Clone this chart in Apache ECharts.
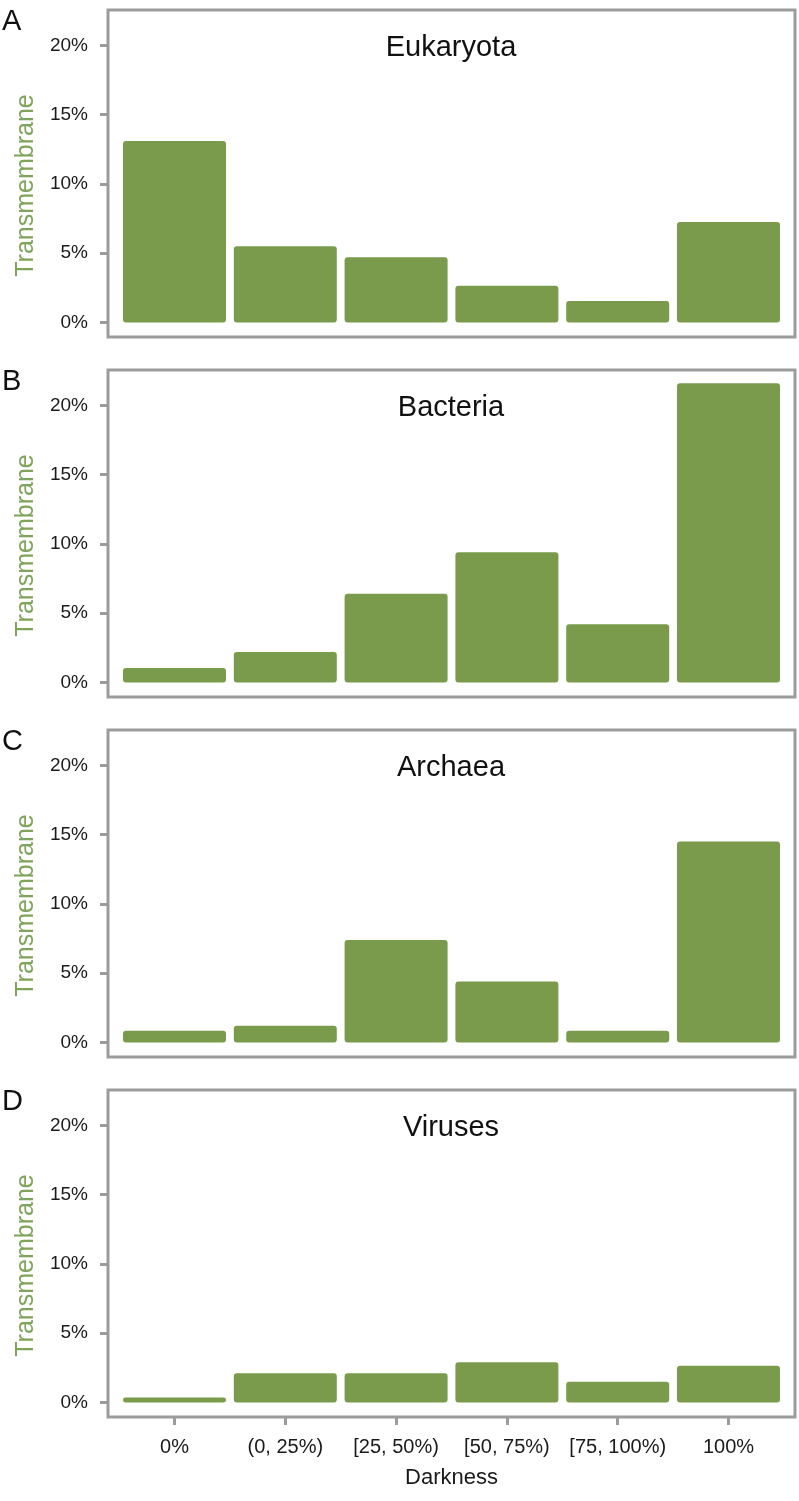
<!DOCTYPE html>
<html>
<head>
<meta charset="utf-8">
<script src="https://cdn.jsdelivr.net/npm/echarts@6/dist/echarts.min.js"></script>
<style>
  html, body { margin: 0; padding: 0; background: #fff; }
  #chart { width: 799px; height: 1501px; }
</style>
</head>
<body>
<div id="chart"></div>
<script>
// ---- data ----
var categories = ['0%', '(0, 25%)', '[25, 50%)', '[50, 75%)', '[75, 100%)', '100%'];
var panelLetters = ['A', 'B', 'C', 'D'];
var panelTitles = ['Eukaryota', 'Bacteria', 'Archaea', 'Viruses'];
var eukaryota = [13.1, 5.5, 4.7, 2.65, 1.55, 7.25];
var bacteria  = [1.05, 2.2, 6.4, 9.4, 4.2, 21.6];
var archaea   = [0.85, 1.2, 7.4, 4.4, 0.85, 14.5];
var viruses   = [0.35, 2.1, 2.1, 2.9, 1.5, 2.65];
var yTicks = [0, 5, 10, 15, 20];
var yAxisName = 'Transmembrane';
var xAxisName = 'Darkness';

// ---- layout / style ----
var panelValues = [eukaryota, bacteria, archaea, viruses];
var gridTops = [10, 370, 730, 1090];
var gridH = 327;
var FONT = '"Liberation Sans", Arial, Helvetica, sans-serif';
var GREEN = '#7a9b4c';
var GRAY = '#9b9b9b';
var catIdx = categories.map(function (c, i) { return i; });

var grids = [], xAxes = [], yAxes = [], series = [], titles = [];
panelValues.forEach(function (vals, p) {
  var last = p === panelValues.length - 1;
  grids.push({
    left: 108, right: 4, top: gridTops[p], height: gridH,
    show: true, borderColor: GRAY, borderWidth: 3, backgroundColor: 'transparent'
  });
  xAxes.push({
    type: 'value', gridIndex: p, min: -0.6, max: 5.6, position: 'bottom',
    splitLine: { show: false }, axisLine: { show: false, onZero: false },
    axisTick: { show: last, length: 8, lineStyle: { color: GRAY, width: 3 }, customValues: catIdx },
    axisLabel: {
      show: last, customValues: catIdx, margin: 20,
      fontFamily: FONT, fontSize: 20, color: '#1a1a1a',
      formatter: function (v) { return categories[Math.round(v)]; }
    },
    name: last ? xAxisName : '', nameLocation: 'middle', nameGap: 50,
    nameTextStyle: { fontFamily: FONT, fontSize: 22, color: '#1a1a1a' }
  });
  yAxes.push({
    type: 'value', gridIndex: p, min: -1.05, max: 22.55, position: 'left',
    splitLine: { show: false }, axisLine: { show: false, onZero: false },
    axisTick: { show: true, length: 8, lineStyle: { color: GRAY, width: 3 }, customValues: yTicks },
    axisLabel: {
      customValues: yTicks, margin: 20,
      fontFamily: FONT, fontSize: 19, color: '#1a1a1a',
      formatter: function (v) { return Math.round(v) + '%'; }
    },
    name: yAxisName, nameLocation: 'middle', nameGap: 62, nameRotate: 90,
    nameTextStyle: { fontFamily: FONT, fontSize: 25, color: '#7ea45a', padding: [0, 24, 0, 0] }
  });
  series.push({
    type: 'bar', xAxisIndex: p, yAxisIndex: p,
    data: vals.map(function (v, i) { return [i, v]; }),
    barWidth: 103,
    itemStyle: { color: GREEN, borderRadius: 3 },
    animation: false
  });
  titles.push({
    text: panelTitles[p], left: 446, top: gridTops[p] + 18, textAlign: 'center',
    textStyle: { fontFamily: FONT, fontSize: 29, fontWeight: 'normal', color: '#111' }
  });
  titles.push({
    text: panelLetters[p], left: -3, top: gridTops[p] - 8,
    textStyle: { fontFamily: FONT, fontSize: 29, fontWeight: 'normal', color: '#111' }
  });
});

var chart = echarts.init(document.getElementById('chart'), null, { renderer: 'canvas' });
chart.setOption({
  backgroundColor: '#fff',
  animation: false,
  title: titles,
  grid: grids,
  xAxis: xAxes,
  yAxis: yAxes,
  series: series
});
</script>
</body>
</html>
